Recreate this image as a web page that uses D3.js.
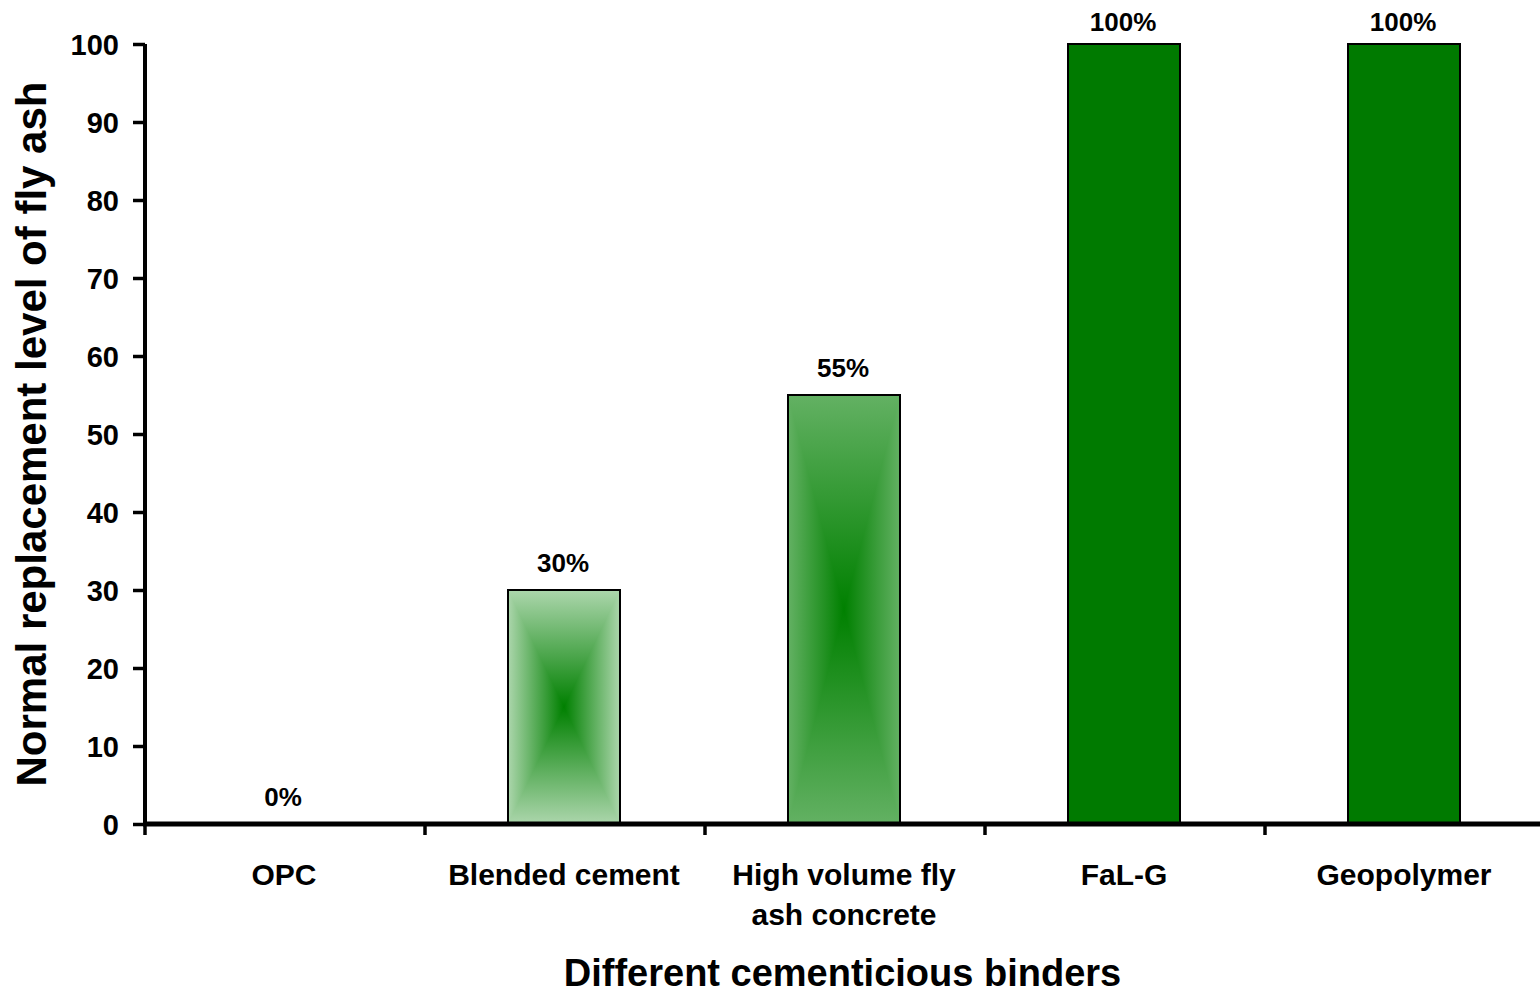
<!DOCTYPE html>
<html>
<head>
<meta charset="utf-8">
<script src="https://cdn.jsdelivr.net/npm/d3@7"></script>
<style>
  html, body { margin: 0; padding: 0; background: #fff; }
  svg { display: block; }
  text { font-family: "Liberation Sans", Arial, sans-serif; font-weight: bold; fill: #000; }
</style>
</head>
<body>
<svg id="chart" width="1540" height="995"></svg>
<script>
// Binder types and their usual fly-ash replacement level (%)
const categories = [["OPC"], ["Blended cement"], ["High volume fly", "ash concrete"], ["FaL-G"], ["Geopolymer"]];
const replacement = [0, 30, 55, 100, 100];
const valueLabels = ["0%", "30%", "55%", "100%", "100%"];
const yTicks = [0, 10, 20, 30, 40, 50, 60, 70, 80, 90, 100];
// fill: [edge colour, centre colour]; equal colours = solid fill
const fills = [["#acd6ac", "#008000"], ["#acd6ac", "#008000"], ["#63b163", "#008000"], ["#007a00", "#007a00"], ["#007a00", "#007a00"]];

const svg = d3.select("#chart");
const margin = { left: 145, right: 0, top: 44, bottom: 171 };
const W = 1540, H = 995;
const x = d3.scaleBand().domain(d3.range(categories.length)).range([margin.left, margin.left + 280 * 5]).padding(0);
const y = d3.scaleLinear().domain([0, 100]).range([H - margin.bottom, margin.top]);
const barW = x.bandwidth() * 0.4;

const defs = svg.append("defs");

// bars
const gBars = svg.append("g");
replacement.forEach((v, i) => {
  const cx = x(i) + x.bandwidth() / 2 - 1;
  const x0 = cx - barW / 2, x1 = cx + barW / 2;
  const y0 = y(v), y1 = y(0);
  const cy = (y0 + y1) / 2;
  const [edge, centre] = fills[i];
  if (v <= 0) return;
  if (edge === centre) {
    gBars.append("rect").attr("x", x0).attr("y", y0).attr("width", barW).attr("height", y1 - y0)
      .attr("fill", centre);
  } else {
    // rectangular "from centre" shading: vertical gradient underneath,
    // horizontal gradient in the left/right wedges on top
    const gv = defs.append("linearGradient").attr("id", "gv" + i)
      .attr("gradientUnits", "userSpaceOnUse").attr("x1", 0).attr("x2", 0).attr("y1", y0).attr("y2", y1);
    gv.append("stop").attr("offset", 0).attr("stop-color", edge);
    gv.append("stop").attr("offset", 0.5).attr("stop-color", centre);
    gv.append("stop").attr("offset", 1).attr("stop-color", edge);
    const gh = defs.append("linearGradient").attr("id", "gh" + i)
      .attr("gradientUnits", "userSpaceOnUse").attr("y1", 0).attr("y2", 0).attr("x1", x0).attr("x2", x1);
    gh.append("stop").attr("offset", 0).attr("stop-color", edge);
    gh.append("stop").attr("offset", 0.5).attr("stop-color", centre);
    gh.append("stop").attr("offset", 1).attr("stop-color", edge);
    gBars.append("rect").attr("x", x0).attr("y", y0).attr("width", barW).attr("height", y1 - y0)
      .attr("fill", `url(#gv${i})`);
    const wedge = [[x0, y0], [cx, cy], [x1, y0], [x1, y1], [cx, cy], [x0, y1]];
    gBars.append("path").attr("d", "M" + wedge.map(p => p.join(",")).join("L") + "Z")
      .attr("fill", `url(#gh${i})`);
  }
  gBars.append("rect").attr("x", x0).attr("y", y0).attr("width", barW).attr("height", y1 - y0)
    .attr("fill", "none").attr("stroke", "#000").attr("stroke-width", 2);
});

// value labels
svg.append("g").selectAll("text").data(replacement).join("text")
  .attr("x", (d, i) => x(i) + x.bandwidth() / 2 - 2)
  .attr("y", d => Math.max(y(d) - 18, 31))
  .attr("text-anchor", "middle").attr("font-size", 26)
  .text((d, i) => valueLabels[i]);

// y axis
const yAxis = svg.append("g").attr("transform", `translate(${margin.left},0)`)
  .call(d3.axisLeft(y).tickValues(yTicks).tickSize(12).tickPadding(14).tickFormat(d3.format("d")));
yAxis.select(".domain").attr("stroke", "#000").attr("stroke-width", 4).attr("d", `M0,${y(100)}V${y(0)}`);
yAxis.selectAll(".tick line").attr("stroke", "#000").attr("stroke-width", 3.5);
yAxis.selectAll(".tick text").attr("font-size", 29).attr("dy", "0.35em")
  .style("font-family", '"Liberation Sans", Arial, sans-serif').style("font-weight", "bold");

// x axis
const xAxis = svg.append("g").attr("transform", `translate(0,${y(0)})`);
xAxis.append("line").attr("x1", margin.left - 2).attr("x2", W).attr("y1", 0).attr("y2", 0)
  .attr("stroke", "#000").attr("stroke-width", 5);
xAxis.selectAll("line.tk").data(d3.range(categories.length)).join("line").attr("class", "tk")
  .attr("x1", i => x(i)).attr("x2", i => x(i)).attr("y1", 0).attr("y2", 11)
  .attr("stroke", "#000").attr("stroke-width", 3.5);

// category labels
const cat = svg.append("g").selectAll("text").data(categories).join("text")
  .attr("x", (d, i) => x(i) + x.bandwidth() / 2 - 1)
  .attr("y", 885).attr("text-anchor", "middle").attr("font-size", 30);
cat.each(function (lines) {
  const t = d3.select(this);
  const cx = t.attr("x");
  lines.forEach((l, k) => t.append("tspan").attr("x", cx).attr("dy", k === 0 ? 0 : 40).text(l));
});

// axis titles
svg.append("text").attr("x", (margin.left + W) / 2).attr("y", 986)
  .attr("text-anchor", "middle").attr("font-size", 38).text("Different cementicious binders");
svg.append("text").attr("transform", `translate(46,${(y(0) + y(100)) / 2}) rotate(-90)`)
  .attr("text-anchor", "middle").attr("font-size", 42).text("Normal replacement level of fly ash");
</script>
</body>
</html>
